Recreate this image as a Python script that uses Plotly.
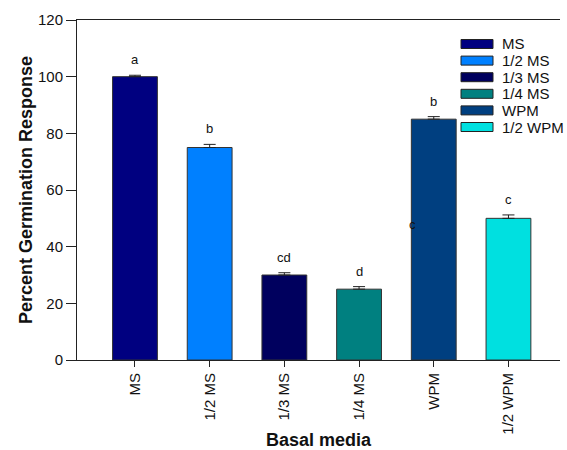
import plotly.graph_objects as go

# Germination response by basal medium
media = ["MS", "1/2 MS", "1/3 MS", "1/4 MS", "WPM", "1/2 WPM"]
response = [100, 75, 30, 25, 85, 50]
std_err = [0.5, 1.1, 0.8, 0.9, 0.9, 1.2]
letters = ["a", "b", "cd", "d", "b", "c"]
colors = ["#000080", "#0080FF", "#00005E", "#008080", "#003F80", "#00E0E0"]

W, H = 567, 450
ML, MR, MT, MB = 77, 7, 20, 90
plot_w = W - ML - MR
plot_h = H - MT - MB

fig = go.Figure()

fig.add_trace(go.Bar(
    x=list(range(len(media))),
    y=response,
    width=0.6,
    marker=dict(color=colors, line=dict(color="#333333", width=1)),
    error_y=dict(type="data", array=std_err, arrayminus=[0] * len(std_err),
                 color="#222222", thickness=1, width=6),
    showlegend=False,
))

# significance letters above each bar
annotations = []
for i, (v, e, t) in enumerate(zip(response, std_err, letters)):
    annotations.append(dict(
        x=i, y=v + e, xref="x", yref="y", text=t, showarrow=False,
        yanchor="bottom", yshift=6,
        font=dict(family="Arial, Liberation Sans", size=13, color="#111111"),
    ))
# extra letter sitting at the left edge of the WPM bar
annotations.append(dict(
    x=3.72, y=48, xref="x", yref="y", text="c", showarrow=False,
    font=dict(family="Arial, Liberation Sans", size=13, color="#111111"),
))

# legend drawn as boxes with labels
shapes = []
sw_left, sw_right = 461, 493
row0, row_step, sw_h = 44, 16.6, 9
for k, (name, col) in enumerate(zip(media, colors)):
    cy = row0 + k * row_step
    shapes.append(dict(
        type="rect", xref="paper", yref="paper",
        x0=(sw_left - ML) / plot_w, x1=(sw_right - ML) / plot_w,
        y0=(H - MB - (cy + sw_h / 2)) / plot_h, y1=(H - MB - (cy - sw_h / 2)) / plot_h,
        fillcolor=col, line=dict(color="#222222", width=1),
    ))
    annotations.append(dict(
        x=(sw_right + 7 - ML) / plot_w, y=(H - MB - cy) / plot_h,
        xref="paper", yref="paper", text=name, showarrow=False,
        xanchor="left", yanchor="middle",
        font=dict(family="Arial, Liberation Sans", size=15, color="#111111"),
    ))

fig.update_layout(
    width=W, height=H,
    margin=dict(l=ML, r=MR, t=MT, b=MB),
    plot_bgcolor="white", paper_bgcolor="white",
    font=dict(family="Arial, Liberation Sans", color="#111111"),
    bargap=0.4,
    annotations=annotations,
    shapes=shapes,
    xaxis=dict(
        range=[-0.776, 5.69], automargin=False,
        tickmode="array", tickvals=list(range(len(media))), ticktext=media,
        tickangle=-90, tickfont=dict(size=15),
        ticks="outside", ticklen=6, tickcolor="#222222",
        showline=True, linecolor="#222222", linewidth=1, mirror=True,
        showgrid=False, zeroline=False,
        title=dict(text="<b>Basal media</b>", font=dict(size=18), standoff=6),
    ),
    yaxis=dict(
        range=[0, 120], automargin=False, tickmode="linear", tick0=0, dtick=20,
        tickfont=dict(size=15),
        ticks="outside", ticklen=10, tickcolor="#222222",
        showline=True, linecolor="#222222", linewidth=1,
        showgrid=False, zeroline=False,
        title=dict(text="<b>Percent Germination Response</b>", font=dict(size=18), standoff=0),
    ),
)

fig.write_html("out.html")
